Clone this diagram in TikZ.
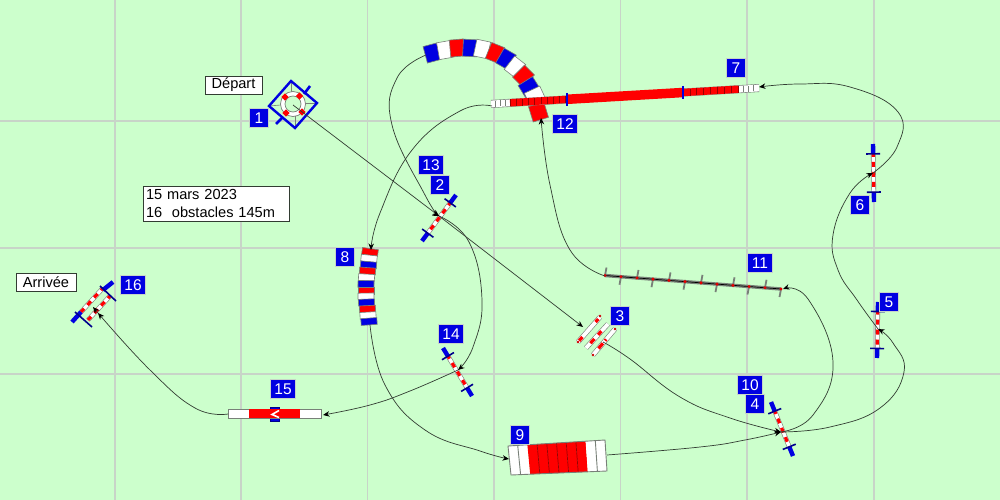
\documentclass[tikz,border=0pt]{standalone}
\usepackage{fontspec}
\setmainfont{Liberation Sans}
\usetikzlibrary{calc,arrows.meta,shapes.geometric}
\definecolor{bg}{RGB}{204,255,204}
\definecolor{gridc}{RGB}{200,212,200}
\definecolor{bluef}{RGB}{0,0,225}
\definecolor{redf}{RGB}{255,0,0}
\definecolor{edgec}{RGB}{120,128,120}
\definecolor{linec}{RGB}{50,60,50}
\newcommand{\seg}[6]{\draw[segline,fill=#6,shift={(#1,#2)},rotate=#3] (-#4,-#5) rectangle (#4,#5);}
\newcommand{\polefence}[2]{%
  \coordinate (pa) at ($(#1)!.17!(#2)$);
  \coordinate (pb) at ($(#1)!.83!(#2)$);
  \draw[poleedge] (pa) -- (pb);
  \draw[polewhite] (pa) -- (pb);
  \draw[polered] (pa) -- (pb);
  \draw[poleblue] (#1) -- (pa);
  \draw[poleblue] (#2) -- (pb);
  \draw[poletick] ($(pa)!7pt!90:(#1)$) -- ($(pa)!7pt!-90:(#1)$);
  \draw[poletick] ($(pb)!7pt!90:(#1)$) -- ($(pb)!7pt!-90:(#1)$);
}
\tikzset{
  segline/.style={draw=edgec,line width=.6pt},
  poleedge/.style={draw=edgec,line width=4.6pt},
  polewhite/.style={draw=white,line width=3.4pt},
  polered/.style={draw=redf,line width=3.2pt,dash pattern=on 5pt off 5pt,dash phase=2pt},
  poleblue/.style={draw=bluef,line width=4.4pt},
  poletick/.style={draw=blue!55!black,line width=1.6pt},
  numbox/.style={fill=bluef,draw=gridc,line width=.6pt,text=white,minimum height=18.5pt,minimum width=18.5pt,inner sep=0pt,font=\fontsize{15.5}{17}\selectfont},
  numwide/.style={numbox,minimum width=25pt},
  labelbox/.style={fill=white,draw=linec,line width=.8pt,text=black,inner sep=0pt,font=\fontsize{14.6}{18}\selectfont},
  conn/.style={draw=linec,line width=.7pt},
  connar/.style={conn,-{Stealth[length=6.5pt,width=5.5pt,color=black]}},
  gridl/.style={draw=gridc,line width=1.2pt},
}
\begin{document}
\begin{tikzpicture}[x=1pt,y=-1pt]
\useasboundingbox (0,0) rectangle (1000,500);
\fill[bg] (0,0) rectangle (1000,500);
\foreach \gx in {115,241,367.5,494,620.5,747,874} \draw[gridl] (\gx,0) -- (\gx,500);
\foreach \gy in {121,248,374} \draw[gridl] (0,\gy) -- (1000,\gy);

% anchors
\coordinate (o1) at (293,105);
\coordinate (o2) at (439,216);
\coordinate (o3) at (583,327);
\coordinate (o3e) at (603,342);
\coordinate (o4) at (781,432);
\coordinate (o5) at (878,329);
\coordinate (o6) at (873,173);
\coordinate (o7a) at (759,87);
\coordinate (o7b) at (492,106);
\coordinate (o8a) at (371,250);
\coordinate (o8b) at (370,325);
\coordinate (o9a) at (509,459);
\coordinate (o9b) at (607,455);
\coordinate (o11a) at (783,289);
\coordinate (o11b) at (605,276);
\coordinate (o12) at (541,118);
\coordinate (o12b) at (426,55);
\coordinate (o14) at (458,370);
\coordinate (o15a) at (323,415);
\coordinate (o15b) at (228,414);
\coordinate (o16) at (98,313);
\coordinate (o16b) at (93,307);

% obstacle 1
\foreach \cx/\cy/\dx/\dy in {291/81/291/92,317/103/305/103,295/128/295/116,269/106/281/105}
  \draw[edgec,line width=.6pt] (\cx,\cy) -- (\dx,\dy);
\draw[edgec,fill=white,line width=.7pt] (293,104) circle (12.5pt);
\draw[edgec,fill=bg,line width=.7pt] (293,104) circle (8pt);
\foreach \dx/\dy in {285/97,299.5/96,302/112,286/113} \fill[redf,shift={(\dx,\dy)},rotate=45] (-2.6,-2.6) rectangle (2.6,2.6);
\draw[bluef,line width=2.4pt,line join=miter] (291,81) -- (317,103) -- (295,128) -- (269,106) -- cycle;
\draw[bluef,line width=2.6pt] (310,86) -- (304,94) (282,118) -- (276,124);

% obstacle 2-13
\coordinate (p2a) at (456,195); \coordinate (p2b) at (422,241);
\polefence{p2a}{p2b}
% obstacle 4-10
\coordinate (p4a) at (771,402); \coordinate (p4b) at (793,456);
\polefence{p4a}{p4b}
% obstacle 5
\coordinate (p5a) at (878,302); \coordinate (p5b) at (877,358);
\polefence{p5a}{p5b}
% obstacle 6
\coordinate (p6a) at (873,144); \coordinate (p6b) at (874,202);
\polefence{p6a}{p6b}
% obstacle 14
\coordinate (p14a) at (443,348); \coordinate (p14b) at (472,396);
\polefence{p14a}{p14b}

% obstacle 16 (double)
\coordinate (p16a) at (113,282); \coordinate (p16b) at (72,322);
\draw[poleedge] (103,288) -- (81,312); \draw[polewhite] (103,288) -- (81,312); \draw[polered] (103,288) -- (81,312);
\draw[poleedge] (110,296) -- (88,320); \draw[polewhite] (110,296) -- (88,320); \draw[polered] (110,296) -- (88,320);
\draw[poleblue] (p16a) -- (103,290) (p16b) -- (81,312);
\draw[poletick] (100,286) -- (116,301) (75,312) -- (92,327);

% obstacle 3
\foreach \ax/\ay/\bx/\by/\ra/\rb/\rc/\rd in {578/342/600/317/.05/.2/.8/.92, 586/348/608/324/.2/.38/.55/.7, 593/355/615/329/.25/.45/.55/.6}{
  \draw[edgec,line width=5pt] (\ax,\ay) -- (\bx,\by);
  \draw[white,line width=3.8pt] (\ax,\ay) -- (\bx,\by);
  \draw[redf,line width=3.2pt] ($(\ax,\ay)!\ra!(\bx,\by)$) -- ($(\ax,\ay)!\rb!(\bx,\by)$);
  \draw[redf,line width=3.2pt] ($(\ax,\ay)!\rc!(\bx,\by)$) -- ($(\ax,\ay)!\rd!(\bx,\by)$);
}
\foreach \dx/\dy in {578/342,600/316,615/329,593/355} \fill[redf!80!black] (\dx,\dy) circle (1.3pt);

% obstacle 8
\foreach \sx/\sy/\sr/\sc in {
 370/252/-8/redf, 369/258.5/-6/white, 368.5/265/-5/bluef, 367.5/271/-4/redf,
 366.5/277.5/-3/white, 366/284/-1/bluef, 366/290.5/0/redf, 366/296.5/1/white,
 366.5/302.5/2/bluef, 367.5/309/3/redf, 368/315.5/3/white, 369/321.5/4/bluef}
 {\seg{\sx}{\sy}{\sr}{8}{3.4}{\sc}}

% obstacle 12 arc
\foreach \sx/\sy/\sr/\sc in {
 432/53/15/bluef, 445/50/10/white, 457/48/5/redf, 470/48/-3/bluef,
 482/49/-12/white, 495/53/-22/redf, 506/59/-30/bluef, 515/67/-38/white,
 523.5/76/-45/redf, 529/87/-58/bluef, 535/96/-65/white}
 {\seg{\sx}{\sy}{\sr}{7}{8.5}{\sc}}
\seg{538.5}{112}{17}{8}{8}{redf}

% obstacle 7 / bar
\coordinate (b1) at (491,104); \coordinate (b2) at (510,102.8);
\coordinate (b3) at (738,89.2); \coordinate (b4) at (759,88);
\draw[edgec,line width=8pt] (b1) -- (b4);
\draw[white,line width=6.8pt] (b1) -- (b4);
\draw[redf,line width=7.4pt] (b2) -- (b3);
\foreach \fr in {0,.11,...,1.01} \draw[red!60!black,line width=.6pt] ($(b2)!\fr*56/228!(b3)+(0,-3.5)$) -- ($(b2)!\fr*56/228!(b3)+(0,3.5)$);
\foreach \fr in {0,.125,...,1.01} \draw[red!60!black,line width=.6pt] ($(b3)!\fr*55/228!(b2)+(0,-3.5)$) -- ($(b3)!\fr*55/228!(b2)+(0,3.5)$);
\foreach \fr in {.25,.5,.75} {\draw[edgec,line width=.8pt] ($(b1)!\fr!(b2)+(0,-3)$) -- ($(b1)!\fr!(b2)+(0,3)$);
 \draw[edgec,line width=.8pt] ($(b3)!\fr!(b4)+(0,-3)$) -- ($(b3)!\fr!(b4)+(0,3)$);}
\draw[redf,line width=9.5pt] (567,99.3) -- (683,92.5);
\draw[bluef,line width=2.6pt] (567,93) -- (567,106) (683,86) -- (683,99);

% obstacle 9
\coordinate (tl) at (508,446); \coordinate (tr) at (605,440);
\coordinate (bl) at (511,475); \coordinate (br) at (607,471);
\foreach \i/\sc in {0/white,1/white,2/redf,3/redf,4/redf,5/redf,6/redf,7/redf,8/white,9/white}{
  \pgfmathsetmacro{\ii}{\i/10}\pgfmathsetmacro{\jj}{(\i+1)/10}
  \fill[\sc] ($(tl)!\ii!(tr)$) -- ($(tl)!\jj!(tr)$) -- ($(bl)!\jj!(br)$) -- ($(bl)!\ii!(br)$) -- cycle;
}
\foreach \i in {3,4,5,6,7}{
  \pgfmathsetmacro{\ii}{\i/10}
  \draw[red!60!black,line width=.7pt] ($(tl)!\ii!(tr)$) -- ($(bl)!\ii!(br)$);
}
\foreach \i in {1,9}{
  \pgfmathsetmacro{\ii}{\i/10}
  \draw[edgec,line width=.9pt] ($(tl)!\ii!(tr)$) -- ($(bl)!\ii!(br)$);
}
\draw[edgec,line width=.9pt] (tl) -- (tr) -- (br) -- (bl) -- cycle;

% obstacle 11
\coordinate (c1) at (605,275.5); \coordinate (c2) at (781,289);
\draw[edgec,line width=3.4pt] (c1) -- (c2);
\draw[black,line width=.7pt] (c1) -- (c2);
\foreach \i in {0,...,11}{
  \pgfmathsetmacro{\ii}{\i/11}
  \pgfmathsetmacro{\sg}{ifthenelse(mod(\i,2)==0,1,-1)}
  \coordinate (cc) at ($(c1)!\ii!(c2)$);
  \draw[edgec,line width=1.8pt] (cc) -- ++(\sg*1.5,-\sg*8);
  \fill[redf!90!black] (cc) circle (1.7pt);
}

% obstacle 15
\fill[bluef] (270.5,407) rectangle (279,421);
\draw[blue!55!black,line width=.8pt] (270.5,407) rectangle (279,421);
\draw[segline,fill=white] (228,409) rectangle (321,418.5);
\fill[redf] (248.5,409.4) rectangle (300,418);
\draw[white,line width=1.6pt] (279,410.5) -- (272,414.5) -- (279,417.5);

% connectors
\begin{scope}[smooth,tension=.75]
\draw[connar] (o1) -- (o2);
\draw[connar] (o2) -- (o3);
\draw[connar] plot[smooth,tension=.75] coordinates {(o3e) (630,359) (680,397) (730,418) (o4)};
\draw[connar] plot[smooth,tension=.75] coordinates {(o4) (830,427) (880,408) (904,372) (893,343) (o5)};
\draw[connar] plot[smooth,tension=.75] coordinates {(o5) (857,300) (838,270) (833,235) (850,193) (o6)};
\draw[connar] plot[smooth,tension=.75] coordinates {(o6) (897,147) (898,112) (850,87) (800,84) (o7a)};
\draw[connar] plot[smooth,tension=.75] coordinates {(o7b) (460,111) (412,150) (380,213) (o8a)};
\draw[connar] plot[smooth,tension=.75] coordinates {(o8b) (385,385) (425,430) (480,451) (o9a)};
\draw[connar] plot[smooth,tension=.75] coordinates {(o9b) (700,447) (745,440) (o4)};
\draw[connar] plot[smooth,tension=.75] coordinates {(o4) (813,415) (833,362) (808,299) (o11a)};
\draw[connar] plot[smooth,tension=.75] coordinates {(o11b) (570,250) (550,185) (o12)};
\draw[connar] plot[smooth,tension=.75] coordinates {(o12b) (397,78) (392,125) (425,195) (o2)};
\draw[connar] plot[smooth,tension=.75] coordinates {(o2) (469,242) (482,300) (473,347) (o14)};
\draw[connar] plot[smooth,tension=.75] coordinates {(o14) (410,391) (370,405) (o15a)};
\draw[connar] plot[smooth,tension=.75] coordinates {(o15b) (195,408) (150,370) (o16)};
\draw[connar] (o16) -- (o16b);
\end{scope}

% number boxes
\node[numbox] (n1) at (259,118) {1};
\node[numbox] (n2) at (440,185) {2};
\node[numbox] (n3) at (620,316) {3};
\node[numbox] (n4) at (755,404) {4};
\node[numbox] (n5) at (889,302) {5};
\node[numbox] (n6) at (860,205) {6};
\node[numbox] (n7) at (736,68) {7};
\node[numbox] (n8) at (345,257) {8};
\node[numbox] (n9) at (520,435) {9};
\node[numwide] (n10) at (750,385) {10};
\node[numwide] (n11) at (760,263) {11};
\node[numwide] (n12) at (565,124) {12};
\node[numwide] (n13) at (431,165) {13};
\node[numwide] (n14) at (451,334) {14};
\node[numwide] (n15) at (283,389) {15};
\node[numwide] (n16) at (133,285) {16};

% labels
\node[labelbox,minimum width=57pt,minimum height=18pt] (depart) at (233.5,85) {Départ};
\node[labelbox,minimum width=60pt,minimum height=18.5pt] (arrivee) at (46,282.5) {Arrivée};
\node[labelbox,minimum width=146pt,minimum height=35pt,align=left,text width=140pt] (info) at (216,203.5) {15 mars 2023\\16\ \ obstacles 145m};
\end{tikzpicture}
\end{document}
